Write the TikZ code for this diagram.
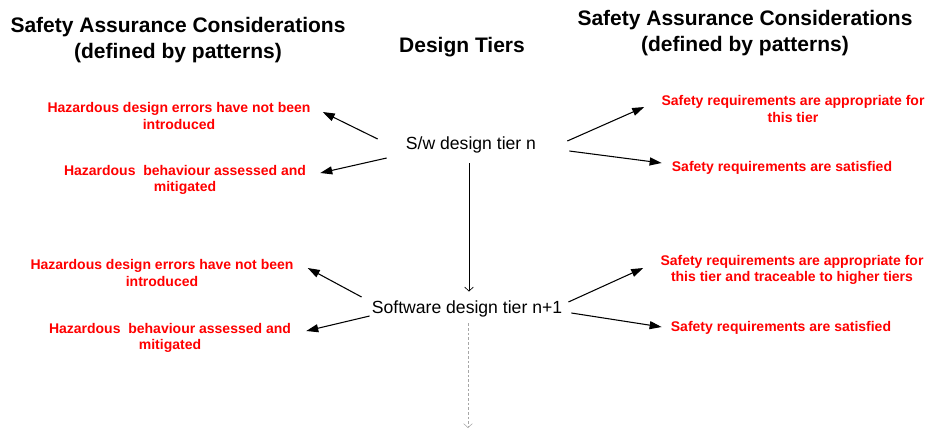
\documentclass[tikz,border=0pt]{standalone}
\usepackage{fontspec}
\setmainfont{Liberation Sans}
\usepackage{tikz}
\usetikzlibrary{arrows.meta, positioning, calc}

\begin{document}
\begin{tikzpicture}[
  x=0.75pt, y=-0.75pt,
  every node/.style={inner sep=0pt, align=center},
  heading/.style={font=\fontsize{15.75}{19.5}\selectfont\bfseries},
  tier/.style={font=\fontsize{13.2}{16}\selectfont},
  claim/.style={font=\fontsize{10.5}{12.6}\selectfont\bfseries, text=red},
  arrow/.style={-{Triangle[length=9pt, width=6pt]}, line width=0.8pt},
  tierarrow/.style={-{Straight Barb[length=3pt, width=6.5pt]}, line width=0.5pt},
  nextarrow/.style={-{Straight Barb[length=3pt, width=6.5pt]}, line width=0.4pt,
                    gray!70, dash pattern=on 2pt off 1.5pt}
]
  \useasboundingbox (0,0) rectangle (926,430);

  \node[heading] (titleL) at (178,40)  {Safety Assurance Considerations\\(defined by patterns)};
  \node[heading] (design) at (462,47)  {Design Tiers};
  \node[heading] (titleR) at (745,33)  {Safety Assurance Considerations\\(defined by patterns)};

  \node[tier] (tierA) at (471,145) {S/w design tier n};
  \node[tier] (tierB) at (467,309) {Software design tier n+1};

  \node[claim] (hazA) at (179,116) {Hazardous design errors have not been\\introduced};
  \node[claim] (hazB) at (185,180) {Hazardous\ \ behaviour assessed and\\mitigated};
  \node[claim] (reqA) at (793,109) {Safety requirements are appropriate for\\this tier};
  \node[claim] (reqB) at (782,168) {Safety requirements are satisfied};

  \node[claim] (hazC) at (162,273) {Hazardous design errors have not been\\introduced};
  \node[claim] (hazD) at (170,338) {Hazardous\ \ behaviour assessed and\\mitigated};
  \node[claim] (reqC) at (792,270) {Safety requirements are appropriate for\\this tier and traceable to higher tiers};
  \node[claim] (reqD) at (781,328) {Safety requirements are satisfied};

  \coordinate (next) at (468,428);

  \draw[arrow] ($(tierA.west)+(-28,-6)$) -- ($(hazA.east)+(12,-4)$);
  \draw[arrow] ($(tierA.west)+(-19,13)$) -- ($(hazB.east)+(14,-7)$);
  \draw[arrow] ($(tierA.east)+(31,-4)$)  -- ($(reqA.west)+(-17,-2)$);
  \draw[arrow] ($(tierA.east)+(33,6)$)   -- ($(reqB.west)+(-10,-5)$);

  \draw[arrow] ($(tierB.west)+(-10,-12)$) -- ($(hazC.east)+(14,-5)$);
  \draw[arrow] ($(tierB.west)+(-2,7)$)    -- ($(hazD.east)+(15,-7)$);
  \draw[arrow] ($(tierB.east)+(6,-7)$)    -- ($(reqC.west)+(-17,-2)$);
  \draw[arrow] ($(tierB.east)+(9,4)$)     -- ($(reqD.west)+(-9,-1)$);

  \draw[tierarrow] ($(tierA.south)+(-2,10)$) -- ($(tierB.north)+(2,-9)$);
  \draw[nextarrow] ($(tierB.south)+(1,6)$) -- (next);
\end{tikzpicture}
\end{document}
